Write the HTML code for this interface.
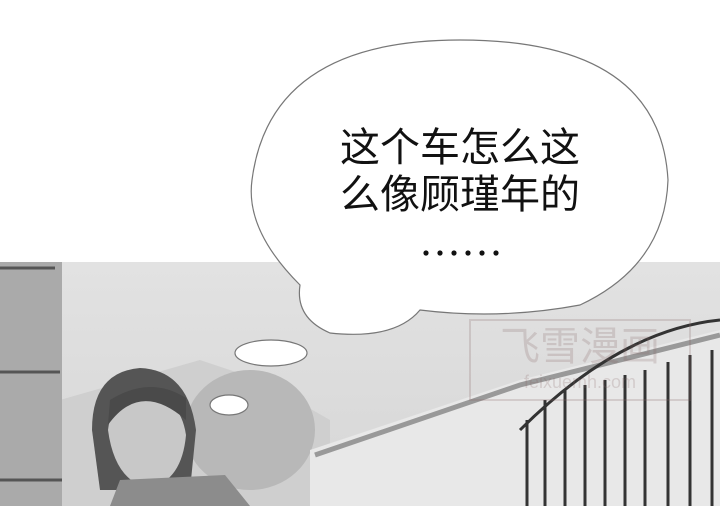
<!DOCTYPE html>
<html><head><meta charset="utf-8"><style>
html,body{margin:0;padding:0;width:720px;height:506px;overflow:hidden;background:#fff}
svg{display:block}
text{font-family:"Liberation Sans","Noto Sans CJK SC",sans-serif}
</style></head><body>
<svg width="720" height="506" viewBox="0 0 720 506">
<defs>
<linearGradient id="sky" x1="0" y1="0" x2="0" y2="1"><stop offset="0" stop-color="#e2e2e2"/><stop offset="1" stop-color="#d6d6d6"/></linearGradient>
</defs>
<g>
<rect x="0" y="262" width="720" height="244" fill="url(#sky)"/>
<path d="M60 400 L200 360 L260 380 L330 420 L330 506 L60 506Z" fill="#cfcfcf"/>
<ellipse cx="250" cy="430" rx="65" ry="60" fill="#b8b8b8"/>
<path d="M310 450 L520 380 L720 330 L720 506 L310 506Z" fill="#e8e8e8"/>
<path d="M315 455 L520 385 L720 335" stroke="#999" stroke-width="5" fill="none"/>
<rect x="0" y="262" width="62" height="244" fill="#aaaaaa"/>
<path d="M0 268 H55 M0 372 H60 M0 480 H62" stroke="#555" stroke-width="3"/>
<g stroke="#333" stroke-width="3">
<line x1="527" y1="420" x2="527" y2="506"/><line x1="545" y1="400" x2="545" y2="506"/>
<line x1="565" y1="390" x2="565" y2="506"/><line x1="585" y1="385" x2="585" y2="506"/>
<line x1="605" y1="380" x2="605" y2="506"/><line x1="625" y1="375" x2="625" y2="506"/>
<line x1="645" y1="370" x2="645" y2="506"/><line x1="668" y1="362" x2="668" y2="506"/>
<line x1="690" y1="355" x2="690" y2="506"/><line x1="712" y1="350" x2="712" y2="506"/>
<path d="M520 430 Q620 330 720 320" fill="none"/>
</g>
<g>
<path d="M92 430 Q92 372 140 368 Q188 370 196 430 L190 490 L100 490Z" fill="#555"/>
<path d="M108 430 Q112 395 142 392 Q180 395 186 435 Q182 480 150 488 Q115 482 108 430Z" fill="#c8c8c8"/>
<path d="M108 425 Q140 380 186 420 L186 398 Q150 375 110 400Z" fill="#4a4a4a"/>
<path d="M120 480 L225 475 L250 506 L110 506Z" fill="#8c8c8c"/>
</g>
</g>
<g opacity="0.22">
<rect x="470" y="320" width="220" height="80" fill="none" stroke="#866" stroke-width="2"/>
<text x="580" y="360" font-size="40" text-anchor="middle" fill="#866">飞雪漫画</text>
<text x="580" y="388" font-size="18" text-anchor="middle" fill="#866">feixuemh.com</text>
</g>
<g>
<path d="M300 285 Q245 230 252 180 Q270 40 460 40 Q660 40 668 180 Q665 265 580 305 Q500 320 420 310 Q395 340 330 333 Q295 318 300 285Z" fill="#fff" stroke="#777" stroke-width="1.2"/>
<ellipse cx="271" cy="353" rx="36" ry="13" fill="#fff" stroke="#777" stroke-width="1.2"/>
<ellipse cx="229" cy="405" rx="19" ry="10" fill="#fff" stroke="#777" stroke-width="1.2"/>
<text x="460" y="161" font-size="40" text-anchor="middle" fill="#111">这个车怎么这</text>
<text x="460" y="208" font-size="40" text-anchor="middle" fill="#111">么像顾瑾年的</text>
<g fill="#111">
<circle cx="426" cy="253" r="2.6"/><circle cx="440" cy="253" r="2.6"/><circle cx="454" cy="253" r="2.6"/>
<circle cx="468" cy="253" r="2.6"/><circle cx="482" cy="253" r="2.6"/><circle cx="496" cy="253" r="2.6"/>
</g>
</g>
</svg>
</body></html>
